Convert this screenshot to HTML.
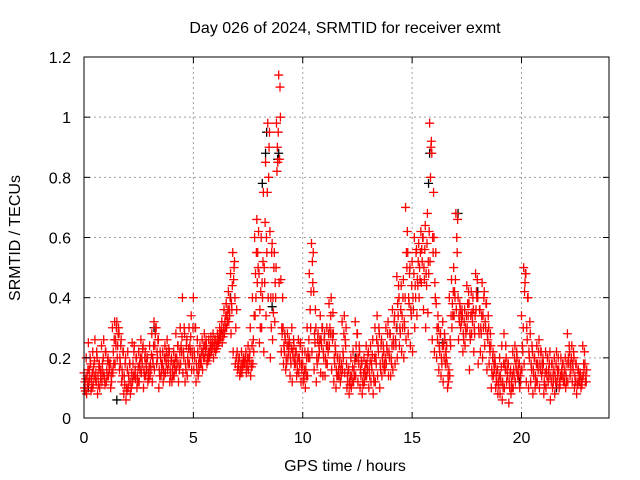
<!DOCTYPE html>
<html><head><meta charset="utf-8">
<style>
html,body{margin:0;padding:0;background:#fff;}
svg{display:block;font-family:"Liberation Sans",sans-serif;}
</style></head>
<body>
<svg id="chart" width="640" height="480" viewBox="0 0 640 480" xmlns="http://www.w3.org/2000/svg">
<rect width="640" height="480" fill="#fff"/>
<text x="345" y="33" font-size="16" text-anchor="middle">Day 026 of 2024, SRMTID for receiver exmt</text>
<text x="345" y="471" font-size="16" text-anchor="middle">GPS time / hours</text>
<text transform="translate(20,238) rotate(-90)" font-size="16" text-anchor="middle">SRMTID / TECUs</text>
<g id="grid"></g>
<g id="marks"></g>
<g id="axes"></g>
</svg>
<script>
const xTicks = [0, 5, 10, 15, 20];
const yTicks = [0, 0.2, 0.4, 0.6, 0.8, 1, 1.2];
const yTickLabels = ["0", "0.2", "0.4", "0.6", "0.8", "1", "1.2"];
const startHour = 0;
const slotHours = 0.1;
// values in 0.01 TECU, one per 0.1 h slot
const tecA = [15,20,25,18,22,26,20,18,24,26, 22,20,18,30,32,32,28,26,22,20, 22,18,25,24,20,22,26,24,22,20, 24,28,32,30,26,20,22,24,26,22, 20,22,28,24,30,40,28,26,30,34, 40,30,22,24,26,28,24,26,27,28, 26,28,30,32,36,38,42,48,55,40, 22,20,22,20,22,24,30,40,60,66, 48,60,75,85,98,62,58,55,98,114, 46,30,26,28,25,30,24,22,26,25, 18,22,30,48,58,42,30,28,34,30, 28,30,38,40,28,22,20,20,32,34, 18,16,20,22,32,28,22,18,20,24, 22,24,26,30,34,28,26,22,30,32, 28,36,34,47,40,44,46,70,55,50, 52,60,56,58,62,60,64,68,98,88, 60,38,30,28,32,26,18,40,46,50, 68,40,36,34,36,44,38,42,36,48, 40,36,45,42,38,30,24,22,18,16, 20,24,28,20,18,16,22,24,20,18, 34,50,48,40,28,22,20,24,26,22, 18,22,20,22,18,20,22,16,20,18, 20,28,22,24,20,18,16,14,24,18];
const tecB = [10,8,12,9,11,13,8,10,12,14, 12,14,10,15,18,20,16,12,8,6, 10,8,12,14,10,12,15,10,14,12, 14,12,16,18,10,14,12,15,16,12, 12,14,16,12,18,15,12,14,18,16, 16,12,14,18,16,20,18,20,22,20, 22,24,26,25,28,30,32,28,22,18, 16,14,15,18,15,16,14,18,34,45, 25,30,22,34,40,20,26,32,82,45, 22,18,16,20,14,12,18,14,15,12, 12,10,14,20,22,16,12,20,15,14, 14,18,24,16,12,10,14,12,16,15, 10,8,10,12,14,12,10,8,12,14, 10,12,8,12,14,10,14,16,18,14, 14,16,18,20,24,22,20,26,28,24, 22,30,34,40,45,36,30,35,52,26, 22,20,16,14,12,18,10,14,30,34, 36,26,30,22,24,30,16,28,22,36, 18,22,20,24,16,18,10,14,10,8, 8,6,10,12,5,8,10,12,14,10, 16,18,12,10,12,8,10,12,10,14, 8,10,12,6,10,8,12,10,14,12, 10,12,14,12,10,8,12,10,14,12];
const tecC = [12,14,16,13,17,15,14,16,18,13, 16,18,14,22,26,24,20,16,14,10, 14,12,18,16,14,18,20,16,18,15, 18,20,24,22,16,18,16,20,20,16, 16,18,20,18,24,22,18,20,24,22, 22,18,18,20,22,24,20,22,24,24, 24,26,28,28,32,34,36,38,46,30, 18,16,18,19,18,20,18,26,48,55, 36,45,50,60,80,40,40,45,90,86, 30,24,20,24,20,22,20,18,20,18, 14,16,22,36,52,28,20,24,26,22, 20,24,30,28,20,16,16,16,22,26, 14,12,14,16,24,20,16,12,16,18, 16,18,14,20,24,18,20,18,24,22, 20,26,26,38,30,34,32,55,40,36, 40,44,46,50,56,50,48,52,80,60, 45,30,24,20,24,22,14,26,38,42, 60,34,34,28,30,38,28,35,30,42, 30,30,34,32,28,24,16,18,14,12, 14,12,18,16,12,12,16,18,16,14, 24,42,30,22,18,16,14,18,18,18, 12,16,16,14,14,14,16,12,16,14, 14,20,18,18,14,12,14,12,18,14];
const tecD = [9,11,13,10,14,12,11,13,15,11, 14,16,12,18,24,28,18,14,11,9, 12,10,14,13,12,16,18,14,16,13, 16,18,28,20,14,16,14,18,18,14, 14,16,18,16,22,20,16,18,22,20, 20,16,16,18,20,22,19,21,23,23, 23,25,27,27,30,32,34,36,50,20, 17,15,17,18,17,19,17,22,40,50, 30,40,45,55,90,30,35,40,85,110, 28,22,18,22,18,20,18,16,18,16, 13,14,20,30,45,25,18,22,24,20, 18,22,28,26,18,14,14,14,20,24, 12,11,12,14,20,18,14,11,14,16, 14,16,12,18,22,16,18,16,22,20, 18,24,24,34,28,30,30,50,38,34, 36,40,44,46,52,46,44,48,90,55, 40,26,22,18,20,20,12,24,34,40, 55,32,32,26,28,34,26,32,28,40, 28,28,30,30,26,22,14,16,12,11, 12,10,16,14,10,10,14,16,14,12, 22,45,26,20,16,14,12,16,16,16, 11,14,14,12,12,12,14,11,14,12, 12,18,16,16,12,11,12,11,16,12];
const tecE = [13,16,20,15,19,22,17,15,20,22, 19,18,16,26,30,30,24,22,18,16, 18,15,22,20,17,20,23,20,20,17, 21,24,30,26,22,18,20,22,23,19, 18,20,24,22,27,30,24,23,27,30, 30,26,20,22,24,26,22,24,25,26, 25,27,29,30,34,36,40,44,52,36, 20,18,20,20,20,22,24,34,55,62, 42,52,65,75,95,55,50,50,95,100, 40,28,24,26,23,26,22,20,24,22, 16,20,26,42,55,36,26,26,30,26, 24,28,34,35,24,20,18,18,28,30, 16,14,17,19,28,24,19,15,18,21, 19,21,20,26,30,24,24,20,28,28, 24,32,30,44,36,40,40,62,48,44, 48,55,52,55,60,56,58,62,92,75, 55,34,28,24,28,24,16,34,42,46, 66,38,36,32,34,42,34,40,34,46, 36,34,40,38,34,28,20,20,16,14, 17,18,24,18,15,14,20,22,18,16, 30,48,40,32,24,20,18,22,22,20, 15,20,18,18,16,18,20,14,18,16, 18,24,20,22,18,16,15,13,22,16];
const blackTimes = [0.2,1.5,3.2,8.15,8.3,8.35,8.6,8.85,8.9,10.9,15.75,15.8,17.1,18.0,12.4,14.3,16.4,19.9,21.6,6.7];
const blackValues = [0.10,0.06,0.30,0.78,0.88,0.95,0.37,0.86,0.88,0.30,0.78,0.88,0.68,0.42,0.20,0.30,0.25,0.12,0.10,0.40];

const L = 84, R = 609, T = 57, B = 418;
const xMin = 0, xMax = 24, yMin = 0, yMax = 1.2;
const NS = "http://www.w3.org/2000/svg";
function xs(t){ return L + (t - xMin) / (xMax - xMin) * (R - L); }
function ys(v){ return B - (v - yMin) / (yMax - yMin) * (B - T); }
function mk(tag, attrs, parent){
  const el = document.createElementNS(NS, tag);
  for (const k in attrs) el.setAttribute(k, attrs[k]);
  parent.appendChild(el);
  return el;
}
const grid = document.getElementById('grid');
const marks = document.getElementById('marks');
const axes = document.getElementById('axes');

xTicks.forEach(function(t){
  const x = xs(t);
  if (t > xMin) {
    const g = mk('line', {x1:x, x2:x, y1:T, y2:B, stroke:'#a0a0a0', 'stroke-width':1, 'stroke-dasharray':'2,3'}, grid);
    
    
  }
  const a = mk('line', {x1:x, x2:x, y1:B, y2:B-6, stroke:'#000'}, axes);
  
  
  const b = mk('line', {x1:x, x2:x, y1:T, y2:T+6, stroke:'#000'}, axes);
  
  
  const lbl = mk('text', {x:x, y:B+25, 'font-size':16, 'text-anchor':'middle'}, axes);
  lbl.textContent = String(t);
  
  
});
yTicks.forEach(function(v, i){
  const y = ys(v);
  if (v > yMin && v < yMax) {
    const g = mk('line', {x1:L, x2:R, y1:y, y2:y, stroke:'#a0a0a0', 'stroke-width':1, 'stroke-dasharray':'2,3'}, grid);
    
    
  }
  const a = mk('line', {x1:L, x2:L+6, y1:y, y2:y, stroke:'#000'}, axes);
  
  
  const b = mk('line', {x1:R, x2:R-6, y1:y, y2:y, stroke:'#000'}, axes);
  
  
  const lbl = mk('text', {x:71, y:y+6, 'font-size':16, 'text-anchor':'end'}, axes);
  lbl.textContent = yTickLabels[i];
  
  
});
const frame = mk('rect', {x:L, y:T, width:R-L, height:B-T, fill:'none', stroke:'#000', 'stroke-width':1}, axes);



function plus(t, v, color, name){
  const x = xs(t), y = ys(v);
  const p = mk('path', {d:'M'+(x-4.5)+' '+y+'H'+(x+4.5)+'M'+x+' '+(y-4.5)+'V'+(y+4.5), stroke:color, 'stroke-width':1.3, fill:'none'}, marks);
  
  
}
blackTimes.forEach(function(t, i){ plus(t, blackValues[i], '#000', 'black-point'); });
[[tecA, 0], [tecB, 0.02], [tecC, 0.04], [tecD, 0.06], [tecE, 0.08]].forEach(function(s){
  s[0].forEach(function(v, i){
    plus(startHour + i * slotHours + s[1], v / 100, '#ff0000', 'red-point');
  });
});
</script>
</body></html>
